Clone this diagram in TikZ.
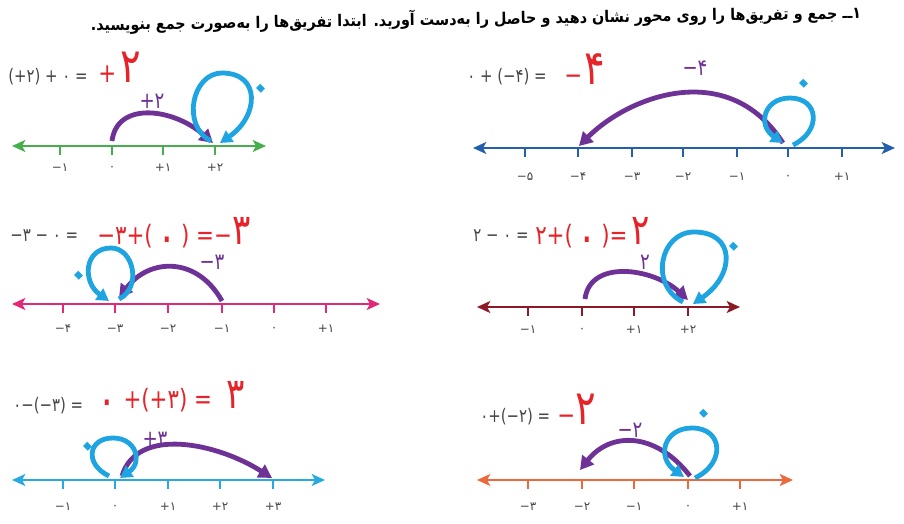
\documentclass[tikz,border=0pt]{standalone}
\usepackage{fontspec}
\usetikzlibrary{arrows.meta}
\TeXXeTstate=1
\newfontfamily\fa[Script=Arabic,FakeStretch=0.9]{DejaVu Sans}
\newfontfamily\fd{DejaVu Sans}
\newfontfamily\fdn[FakeStretch=0.8]{DejaVu Sans}
\definecolor{greenax}{RGB}{70,175,75}
\definecolor{blueax}{RGB}{35,95,170}
\definecolor{pinkax}{RGB}{228,40,120}
\definecolor{darkredax}{RGB}{140,25,35}
\definecolor{lblueax}{RGB}{40,170,225}
\definecolor{orangeax}{RGB}{235,105,60}
\definecolor{jumpc}{RGB}{110,50,150}
\definecolor{loopc}{RGB}{30,165,225}
\definecolor{redc}{RGB}{230,35,40}
\definecolor{greyc}{RGB}{70,70,70}
\newcommand\bigd[2][32]{{\fontsize{#1}{#1}\selectfont #2}}
\newcommand\rz{\raisebox{-0.5ex}{\fontsize{34}{34}\selectfont ۰}}
\begin{document}
\begin{tikzpicture}[x=0.75pt,y=-0.75pt,
  axisline/.style={line width=1.4pt, {Stealth[length=10pt,width=9pt,inset=2.5pt]}-{Stealth[length=10pt,width=9pt,inset=2.5pt]}},
  tk/.style={line width=1.2pt},
  tl/.style={font=\fd\fontsize{9}{10}\selectfont, text=greyc, inner sep=0pt},
  jump/.style={draw=jumpc, line width=3.6pt, -{Triangle[length=10pt,width=11pt]}},
  lp/.style={draw=loopc, line width=3.6pt, -{Triangle[length=9pt,width=10pt]}},
  jl/.style={font=\fdn\fontsize{17}{18}\selectfont, text=jumpc, inner sep=0pt},
  zl/.style={font=\fd\fontsize{42}{42}\selectfont, text=loopc, inner sep=0pt, text height=0pt, text depth=0pt, rotate=45},
  ge/.style={font=\fdn\fontsize{14}{15}\selectfont, text=greyc, inner sep=0pt, anchor=base west},
  re/.style={font=\fdn\fontsize{20}{21}\selectfont, text=redc, inner sep=0pt, anchor=base west}
]
\useasboundingbox (0,0) rectangle (904,524);
\fill[white] (0,0) rectangle (904,524);

% title
\node[font=\fa\bfseries\fontsize{12}{13}\selectfont, rotate=0.9, inner sep=0pt] (title) at (476,19) {\beginR ۱ــ جمع و تفریق‌ها را روی محور نشان دهید و حاصل را به‌دست آورید. ابتدا تفریق‌ها را به‌صورت جمع بنویسید.\endR};

% ---------- panel 1 ----------
\coordinate (a1l) at (12,146); \coordinate (a1r) at (266,146);
\draw[axisline, greenax] (a1l) -- (a1r);
\foreach \x/\t [count=\i] in {60/−۱,112/۰,163/+۱,215/+۲}{
  \draw[tk, greenax] (\x,146) -- (\x,155);
  \node[tl] (t1\i) at (\x,168) {\beginL\t\endL};}
\coordinate (j1s) at (112,141); \coordinate (j1e) at (213,143);
\draw[jump] (j1s) .. controls +(5,-40) and +(-40,-35) .. (j1e);
\coordinate (l1s) at (211,141); \coordinate (l1t) at (222,73); \coordinate (l1e) at (220,143);
\draw[lp] (l1s) .. controls +(-30,-15) and +(-30,0) .. (l1t) .. controls +(39,0) and +(39,-27) .. (l1e);
\node[jl] (j1l) at (152,101) {\beginL +۲\endL};
\node[zl] (z1) at (272,100) {۰};
\node[ge] (e1g) at (8,83) {\beginL (+۲) + ۰ =\endL};
\node[re] (e1r) at (98,83) {\beginL +\hspace{3pt}\bigd[36]{۲}\endL};

% ---------- panel 2 ----------
\coordinate (a2l) at (473,148); \coordinate (a2r) at (895,148);
\draw[axisline, blueax] (a2l) -- (a2r);
\foreach \x/\t [count=\i] in {525/−۵,578/−۴,632/−۳,683/−۲,737/−۱,788/۰,842/+۱}{
  \draw[tk, blueax] (\x,148) -- (\x,157);
  \node[tl] (t2\i) at (\x,177) {\beginL\t\endL};}
\coordinate (j2s) at (783,143); \coordinate (j2e) at (579,146);
\draw[jump] (j2s) .. controls +(-55,-85) and +(50,-50) .. (j2e);
\coordinate (l2s) at (793,145); \coordinate (l2t) at (790,98); \coordinate (l2e) at (783,143);
\draw[lp] (l2s) .. controls +(29,-14) and +(29,0) .. (l2t) .. controls +(-26,0) and +(-26,-18) .. (l2e);
\node[jl] (j2l) at (695,68) {\beginL −۴\endL};
\node[zl] (z2) at (815,95) {۰};
\node[ge] (e2g) at (467,83) {\beginL ۰ + (−۴) =\endL};
\node[re] (e2r) at (564,85) {\beginL −\hspace{2pt}\bigd[36]{۴}\endL};

% ---------- panel 3 ----------
\coordinate (a3l) at (12,304); \coordinate (a3r) at (380,304);
\draw[axisline, pinkax] (a3l) -- (a3r);
\foreach \x/\t [count=\i] in {63/−۴,115/−۳,168/−۲,222/−۱,274/۰,326/+۱}{
  \draw[tk, pinkax] (\x,304) -- (\x,313);
  \node[tl] (t3\i) at (\x,329) {\beginL\t\endL};}
\coordinate (j3s) at (222,301); \coordinate (j3e) at (119,298);
\draw[jump] (j3s) .. controls +(-25,-45) and +(30,-40) .. (j3e);
\coordinate (l3s) at (119,299); \coordinate (l3t) at (111,248); \coordinate (l3e) at (109,301);
\draw[lp] (l3s) .. controls +(23,-11) and +(23,0) .. (l3t) .. controls +(-27,0) and +(-27,-19) .. (l3e);
\node[jl] (j3l) at (212,262) {\beginL −۳\endL};
\node[zl] (z3) at (90,287) {۰};
\node[ge] (e3g) at (10,242) {\beginL −۳ − ۰ =\endL};
\node[re] (e3r) at (97,245) {\beginL −۳+(\,\rz\,) =−\bigd{۳}\endL};

% ---------- panel 4 ----------
\coordinate (a4l) at (477,307); \coordinate (a4r) at (740,307);
\draw[axisline, darkredax] (a4l) -- (a4r);
\foreach \x/\t [count=\i] in {528/−۱,582/۰,634/+۱,688/+۲}{
  \draw[tk, darkredax] (\x,307) -- (\x,316);
  \node[tl] (t4\i) at (\x,330) {\beginL\t\endL};}
\coordinate (j4s) at (585,299); \coordinate (j4e) at (688,300);
\draw[jump] (j4s) .. controls +(5,-40) and +(-35,-32) .. (j4e);
\coordinate (l4s) at (683,302); \coordinate (l4t) at (694,232); \coordinate (l4e) at (693,304);
\draw[lp] (l4s) .. controls +(-34,-17) and +(-34,0) .. (l4t) .. controls +(42,0) and +(42,-29) .. (l4e);
\node[jl] (j4l) at (645,262) {۲};
\node[zl] (z4) at (745,258) {۰};
\node[ge] (e4g) at (473,242) {\beginL ۲ − ۰ =\endL};
\node[re] (e4r) at (535,245) {\beginL ۲+(\,\rz\,)=\hspace{3pt}\bigd{۲}\endL};

% ---------- panel 5 ----------
\coordinate (a5l) at (12,480); \coordinate (a5r) at (325,480);
\draw[axisline, lblueax] (a5l) -- (a5r);
\foreach \x/\t [count=\i] in {63/−۱,115/۰,168/+۱,220/+۲,273/+۳}{
  \draw[tk, lblueax] (\x,480) -- (\x,489);
  \node[tl] (t5\i) at (\x,507) {\beginL\t\endL};}
\coordinate (j5s) at (122,476); \coordinate (j5e) at (272,478);
\draw[jump] (j5s) .. controls +(15,-50) and +(-55,-35) .. (j5e);
\coordinate (l5s) at (109,476); \coordinate (l5t) at (113,438); \coordinate (l5e) at (120,478);
\draw[lp] (l5s) .. controls +(-25,-12) and +(-25,0) .. (l5t) .. controls +(23,0) and +(23,-16) .. (l5e);
\node[jl] (j5l) at (155,439) {\beginL +۳\endL};
\node[zl] (z5) at (99,458) {۰};
\node[ge] (e5g) at (13,411) {\beginL ۰−(−۳) =\endL};
\node[re] (e5r) at (97,408) {\beginL \rz\ +(+۳)\ = \hspace{6pt}\bigd{۳}\endL};

% ---------- panel 6 ----------
\coordinate (a6l) at (477,480); \coordinate (a6r) at (793,480);
\draw[axisline, orangeax] (a6l) -- (a6r);
\foreach \x/\t [count=\i] in {528/−۳,582/−۲,634/−۱,688/۰,740/+۱}{
  \draw[tk, orangeax] (\x,480) -- (\x,489);
  \node[tl] (t6\i) at (\x,507) {\beginL\t\endL};}
\coordinate (j6s) at (690,476); \coordinate (j6e) at (580,470);
\draw[jump] (j6s) .. controls +(-35,-45) and +(30,-38) .. (j6e);
\coordinate (l6s) at (695,478); \coordinate (l6t) at (692,428); \coordinate (l6e) at (684,477);
\draw[lp] (l6s) .. controls +(31,-15) and +(31,0) .. (l6t) .. controls +(-28,0) and +(-28,-20) .. (l6e);
\node[jl] (j6l) at (630,430) {\beginL −۲\endL};
\node[zl] (z6) at (715,425) {۰};
\node[ge] (e6g) at (480,422) {\beginL ۰+(−۲) =\endL};
\node[re] (e6r) at (557,424) {\beginL −\bigd[36]{۲}\endL};
\end{tikzpicture}
\end{document}
